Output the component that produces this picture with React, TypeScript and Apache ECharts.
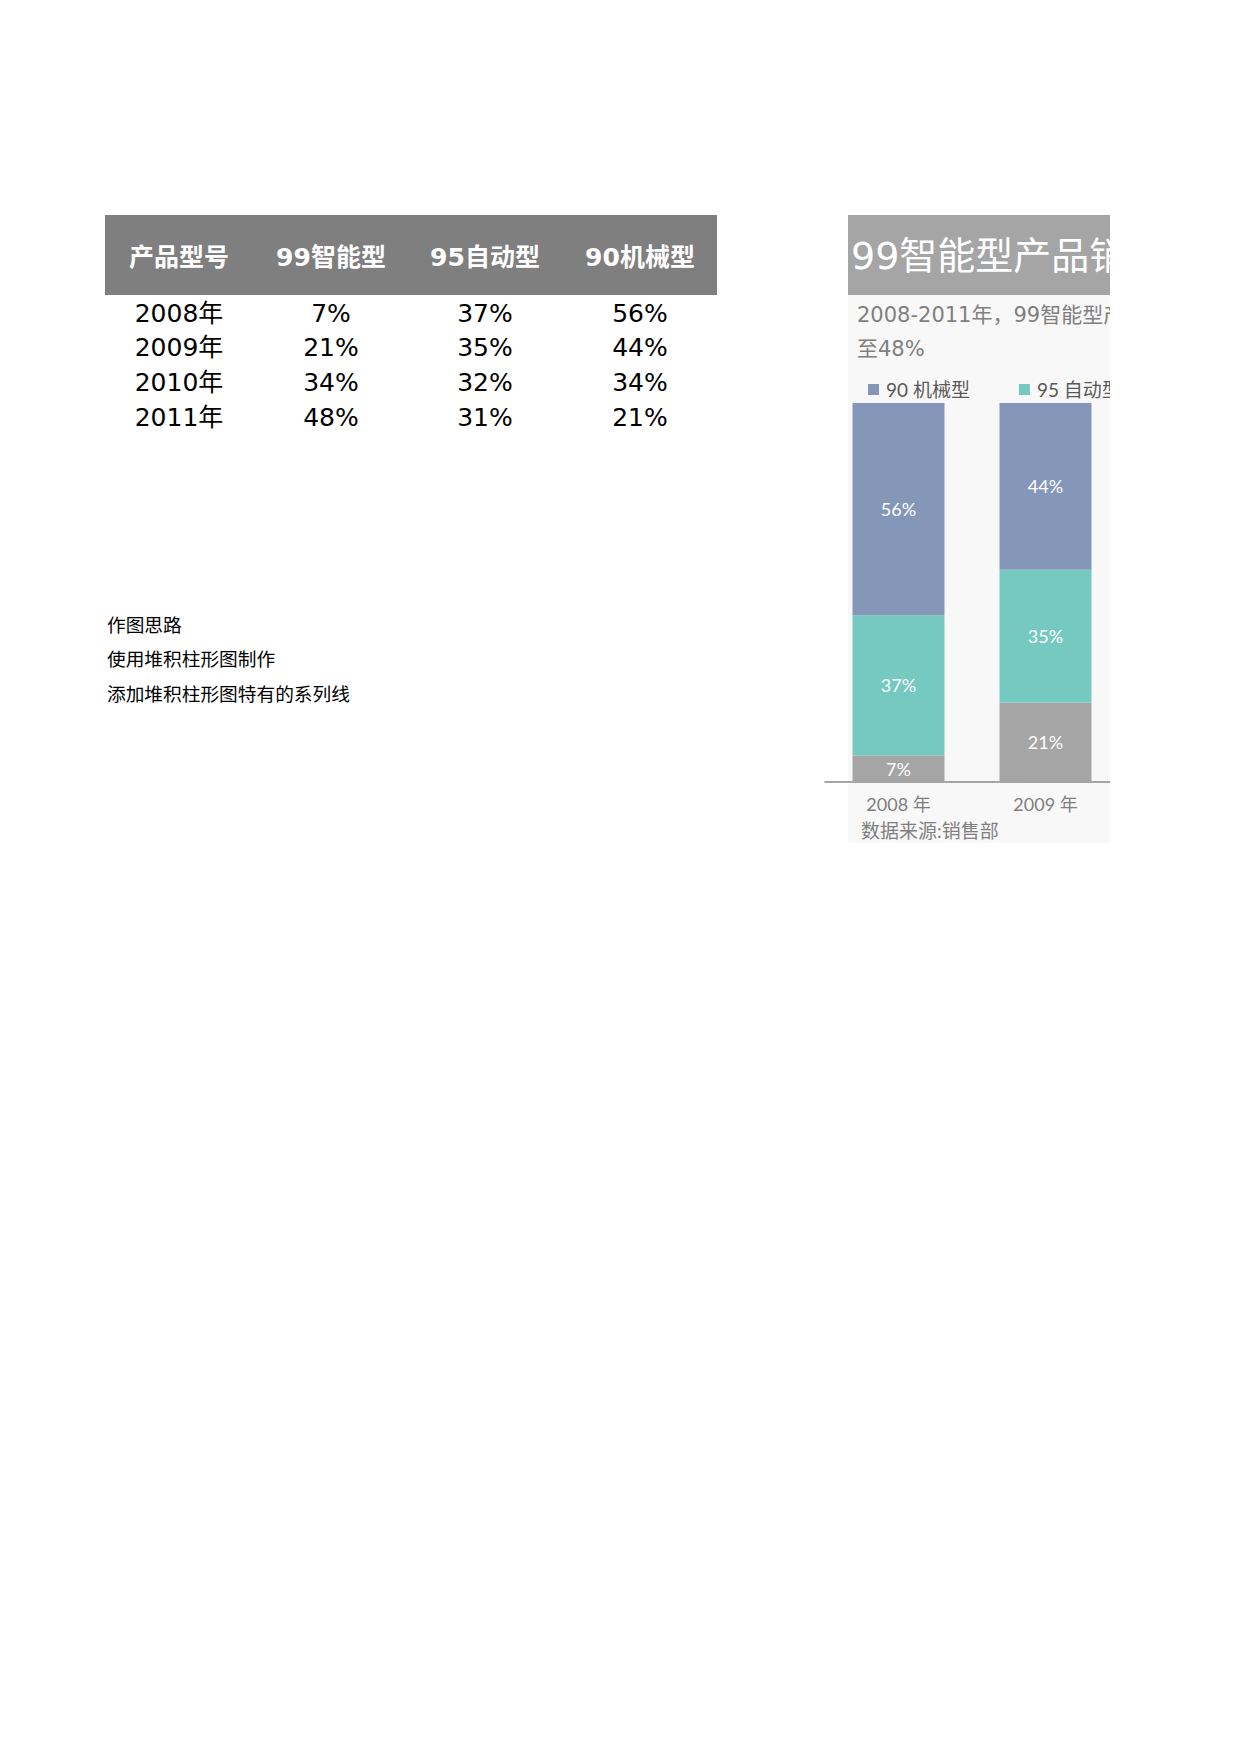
import React, { useEffect, useRef } from "react";
import * as echarts from "echarts";

const headers = ["产品型号", "99智能型", "95自动型", "90机械型"];
const years = ["2008年", "2009年", "2010年", "2011年"];
const axisYears = ["2008 年", "2009 年", "2010 年", "2011 年"];
const smart99 = [7, 21, 34, 48];
const auto95 = [37, 35, 32, 31];
const mech90 = [56, 44, 34, 21];
const seriesNames = ["99 智能型", "95 自动型", "90 机械型"];
const legendOrder = ["90 机械型", "95 自动型", "99 智能型"];
const notes = ["作图思路", "使用堆积柱形图制作", "添加堆积柱形图特有的系列线"];
const chartTitle = "99智能型产品销量占比逐年提升";
const subtitleLines = ["2008-2011年，99智能型产品销量占比由7%逐年上升", "至48%"];
const sourceText = "数据来源:销售部";

const FONT_TABLE = '"DejaVu Sans", "Noto Sans CJK SC", sans-serif';
const FONT_CHART = 'Lato, "Noto Sans CJK SC", sans-serif';

function TablePart() {
  const ref = useRef<HTMLDivElement>(null);
  useEffect(() => {
    const chart = echarts.init(ref.current!, undefined, { renderer: "svg" });
    const colX = [179, 331, 485, 640];
    const rowY0 = 313;
    const rowStep = 34.7;
    const elements: any[] = [];
    elements.push({
      type: "rect",
      shape: { x: 105, y: 215, width: 612, height: 80 },
      style: { fill: "#7f7f7f" },
    });
    headers.forEach((h, i) => {
      elements.push({
        type: "text",
        x: colX[i],
        y: 257,
        style: {
          text: h,
          fill: "#ffffff",
          fontSize: 25,
          fontWeight: "bold",
          fontFamily: FONT_TABLE,
          align: "center",
          verticalAlign: "middle",
        },
      });
    });
    const cols = [smart99, auto95, mech90];
    years.forEach((y, r) => {
      const row = [y, ...cols.map((c) => `${c[r]}%`)];
      row.forEach((t, i) => {
        elements.push({
          type: "text",
          x: colX[i],
          y: rowY0 + r * rowStep,
          style: {
            text: t,
            fill: "#000000",
            fontSize: 25,
            fontFamily: FONT_TABLE,
            align: "center",
            verticalAlign: "middle",
          },
        });
      });
    });
    notes.forEach((n, i) => {
      elements.push({
        type: "text",
        x: 107,
        y: 625 + i * 34.7,
        style: {
          text: n,
          fill: "#000000",
          fontSize: 18.7,
          fontFamily: FONT_TABLE,
          align: "left",
          verticalAlign: "middle",
        },
      });
    });
    chart.setOption({ animation: false, graphic: { elements } });
    return () => chart.dispose();
  }, []);
  return (
    <div
      ref={ref}
      style={{ position: "absolute", left: 0, top: 0, width: 760, height: 760 }}
    />
  );
}

function ChartPart() {
  const ref = useRef<HTMLDivElement>(null);
  useEffect(() => {
    const chart = echarts.init(ref.current!, undefined, { renderer: "svg" });
    const label = {
      show: true,
      position: "inside",
      color: "#ffffff",
      fontSize: 18,
      fontFamily: FONT_CHART,
      formatter: "{c}%",
    };
    chart.setOption({
      animation: false,
      graphic: {
        elements: [
          {
            type: "rect",
            z: -10,
            shape: { x: 24, y: 95, width: 700, height: 548 },
            style: { fill: "#f8f8f8" },
          },
          {
            type: "rect",
            z: -10,
            shape: { x: 24, y: 15, width: 700, height: 80 },
            style: { fill: "#a5a5a5" },
          },
          {
            type: "text",
            x: 27,
            y: 56,
            style: {
              text: chartTitle,
              fill: "#ffffff",
              fontSize: 38,
              fontFamily: FONT_TABLE,
              align: "left",
              verticalAlign: "middle",
            },
          },
          ...subtitleLines.map((s, i) => ({
            type: "text",
            x: 33,
            y: 115 + i * 34,
            style: {
              text: s,
              fill: "#7f7f7f",
              fontSize: 21,
              fontFamily: FONT_TABLE,
              align: "left",
              verticalAlign: "middle",
            },
          })),
          {
            type: "text",
            x: 37,
            y: 630,
            style: {
              text: sourceText,
              fill: "#7f7f7f",
              fontSize: 19,
              fontFamily: FONT_CHART,
              align: "left",
              verticalAlign: "middle",
            },
          },
        ],
      },
      legend: {
        data: legendOrder,
        left: 44,
        top: 180,
        padding: 0,
        icon: "rect",
        itemWidth: 11,
        itemHeight: 11,
        itemGap: 49,
        textStyle: {
          fontSize: 19,
          color: "#595959",
          fontFamily: FONT_CHART,
          padding: [0, 0, 0, 2],
        },
      },
      grid: { left: 1, top: 203, width: 588, height: 379, containLabel: false },
      xAxis: {
        type: "category",
        data: axisYears,
        axisLine: { lineStyle: { color: "#898989", width: 1.5 } },
        axisTick: { show: false },
        axisLabel: {
          fontSize: 18,
          color: "#7f7f7f",
          fontFamily: FONT_CHART,
          margin: 13,
        },
      },
      yAxis: { type: "value", min: 0, max: 100, show: false },
      series: [
        {
          name: seriesNames[0],
          type: "bar",
          stack: "total",
          barWidth: 92,
          data: smart99,
          itemStyle: { color: "#a5a5a5" },
          label,
        },
        {
          name: seriesNames[1],
          type: "bar",
          stack: "total",
          barWidth: 92,
          data: auto95,
          itemStyle: { color: "#75c9c0" },
          label,
        },
        {
          name: seriesNames[2],
          type: "bar",
          stack: "total",
          barWidth: 92,
          data: mech90,
          itemStyle: { color: "#8497b9" },
          label,
        },
      ],
    });
    return () => chart.dispose();
  }, []);
  return (
    <div
      style={{
        position: "absolute",
        left: 824,
        top: 200,
        width: 286,
        height: 660,
        overflow: "hidden",
      }}
    >
      <div ref={ref} style={{ width: 700, height: 660 }} />
    </div>
  );
}

export default function App() {
  return (
    <div style={{ position: "absolute", left: 0, top: 0, width: 1240, height: 900 }}>
      <TablePart />
      <ChartPart />
    </div>
  );
}
